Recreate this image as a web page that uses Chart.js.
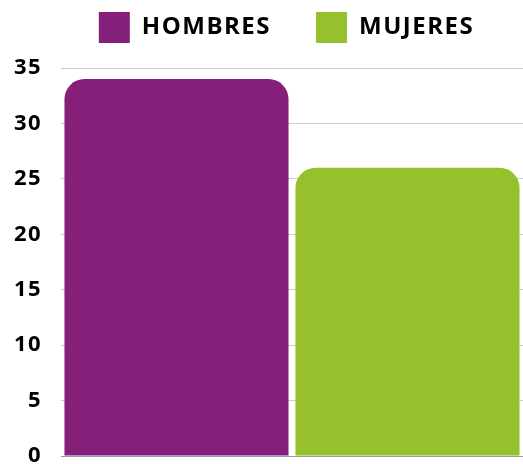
<!DOCTYPE html>
<html><head><meta charset="utf-8">
<script src="https://cdn.jsdelivr.net/npm/chart.js@4"></script>
<style>html,body{margin:0;padding:0;background:#fff;overflow:hidden}#wrap{width:523px;height:464px;position:relative}</style>
</head><body><div id="wrap"><canvas id="c"></canvas></div>
<script>
const categories = [''];
const seriesNames = ['HOMBRES', 'MUJERES'];
const hombres = [34];
const mujeres = [26];
const yTicks = [0, 5, 10, 15, 20, 25, 30, 35];
const seriesColors = ['#84207a', '#96c02c'];

const seriesValues = [hombres, mujeres];
const FONT = "'Open Sans', 'Noto Sans', sans-serif";
const SPACING = '1.5px';

const spacingPlugin = {
  id: 'spacing',
  beforeUpdate(chart) { chart.ctx.letterSpacing = SPACING; },
  beforeLayout(chart) { chart.ctx.letterSpacing = SPACING; },
  beforeDraw(chart) { chart.ctx.letterSpacing = SPACING; }
};

new Chart(document.getElementById('c'), {
  type: 'bar',
  plugins: [spacingPlugin],
  data: {
    labels: categories,
    datasets: seriesNames.map((name, i) => ({
      label: name,
      data: seriesValues[i],
      backgroundColor: seriesColors[i],
      borderWidth: 0,
      borderRadius: {topLeft: 20, topRight: 20, bottomLeft: 0, bottomRight: 0},
      borderSkipped: 'start',
      barPercentage: 0.97,
      categoryPercentage: 1
    }))
  },
  options: {
    responsive: true,
    maintainAspectRatio: false,
    animation: false,
    devicePixelRatio: 1,
    layout: {padding: {left: 50, top: -33, right: 0, bottom: 0}},
    plugins: {
      tooltip: {enabled: false},
      legend: {
        position: 'top',
        labels: {
          boxWidth: 31, boxHeight: 31, padding: 45, color: '#000',
          font: {family: FONT, size: 24, weight: 'bold'}
        }
      }
    },
    scales: {
      x: {
        position: 'top',
        ticks: {display: false},
        grid: {display: false},
        border: {display: false},
        afterFit: s => { s.height = 15; }
      },
      y: {
        min: yTicks[0], max: yTicks[yTicks.length - 1],
        afterBuildTicks: s => { s.ticks = yTicks.map(v => ({value: v})); },
        afterFit: s => { s.width = 11; s.paddingBottom = 8; },
        border: {display: false},
        grid: {
          drawTicks: false,
          color: c => (c.tick && c.tick.value === 0) ? '#9a9a9a' : '#cccccc',
          lineWidth: 1
        },
        ticks: {
          mirror: true,
          crossAlign: 'far',
          padding: -47,
          color: '#000',
          font: {family: FONT, size: 22, weight: 'bold'}
        }
      }
    }
  }
});
</script>
</body></html>
